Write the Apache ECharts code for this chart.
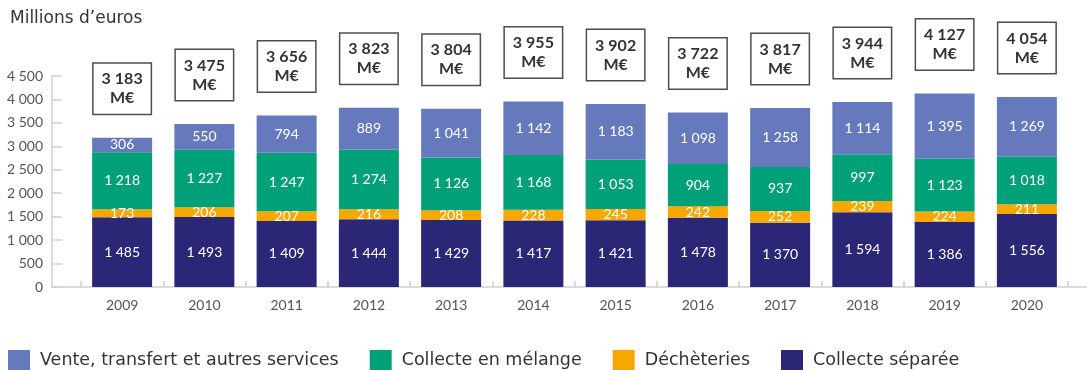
<!DOCTYPE html>
<html>
<head>
<meta charset="utf-8">
<script src="https://cdn.jsdelivr.net/npm/echarts@6/dist/echarts.min.js"></script>
<style>
  html, body { margin: 0; padding: 0; background: #fff; }
  #chart { width: 1087px; height: 370px; }
</style>
</head>
<body>
<div id="chart"></div>
<script>
// Dépenses de gestion des déchets, en millions d'euros
const years = ['2009', '2010', '2011', '2012', '2013', '2014', '2015', '2016', '2017', '2018', '2019', '2020'];
const collecteSeparee = [1485, 1493, 1409, 1444, 1429, 1417, 1421, 1478, 1370, 1594, 1386, 1556];
const decheteries = [173, 206, 207, 216, 208, 228, 245, 242, 252, 239, 224, 211];
const collecteMelange = [1218, 1227, 1247, 1274, 1126, 1168, 1053, 904, 937, 997, 1123, 1018];
const venteTransfert = [306, 550, 794, 889, 1041, 1142, 1183, 1098, 1258, 1114, 1395, 1269];
const totals = [3183, 3475, 3656, 3823, 3804, 3955, 3902, 3722, 3817, 3944, 4127, 4054];
const yTicks = { min: 0, max: 4500, interval: 500 };

const FONT = 'Lato, "Noto Sans", sans-serif';
const TEXT_FONT = '"DejaVu Sans", "Noto Sans", sans-serif';
const fmt = v => String(v).replace(/\B(?=(\d{3})+(?!\d))/g, '\u202f');

const innerLabel = {
  show: true,
  position: 'inside',
  color: '#fff',
  fontSize: 14,
  fontFamily: FONT,
  formatter: p => fmt(p.value)
};

function barSeries(name, data, color) {
  return {
    name: name,
    type: 'bar',
    stack: 'total',
    xAxisIndex: 0,
    yAxisIndex: 0,
    barWidth: 60,
    data: data,
    itemStyle: { color: color },
    label: innerLabel
  };
}

const chart = echarts.init(document.getElementById('chart'), null, { renderer: 'canvas' });
chart.setOption({
  animation: false,
  title: {
    text: 'Millions d\u2019euros',
    left: 5,
    top: 5,
    textStyle: { fontFamily: TEXT_FONT, fontSize: 17, fontWeight: 'normal', color: '#333' }
  },
  legend: {
    left: 3,
    top: 345,
    itemWidth: 22,
    itemHeight: 21,
    itemGap: 31,
    icon: 'rect',
    textStyle: { fontFamily: TEXT_FONT, fontSize: 17.5, color: '#333', padding: [0, 0, 0, 5] },
    data: ['Vente, transfert et autres services', 'Collecte en mélange', 'Déchèteries', 'Collecte séparée']
  },
  grid: [
    { left: 81, right: 19, top: 76, bottom: 83 },
    { left: 52, right: 0, top: 76, bottom: 83 }
  ],
  xAxis: [
    {
      type: 'category',
      gridIndex: 0,
      data: years,
      axisLine: { show: false },
      axisTick: { show: true, inside: true, length: 6, lineStyle: { color: '#d0d0d0', width: 1.5 } },
      axisLabel: { color: '#555', fontSize: 14, fontFamily: FONT, margin: 11 }
    },
    {
      type: 'value',
      gridIndex: 1,
      min: 0,
      max: 1,
      position: 'bottom',
      axisLine: { show: true, onZero: false, lineStyle: { color: '#d0d0d0', width: 1.5 } },
      axisTick: { show: false },
      axisLabel: { show: false },
      splitLine: { show: false }
    }
  ],
  yAxis: [
    {
      type: 'value',
      gridIndex: 0,
      min: yTicks.min,
      max: yTicks.max,
      interval: yTicks.interval,
      show: false
    },
    {
      type: 'value',
      gridIndex: 1,
      min: yTicks.min,
      max: yTicks.max,
      interval: yTicks.interval,
      axisLine: { show: true, lineStyle: { color: '#d0d0d0', width: 1.5 } },
      axisTick: { show: true, inside: true, length: 10, lineStyle: { color: '#d0d0d0', width: 1.5 } },
      axisLabel: { color: '#555', fontSize: 14, fontFamily: FONT, margin: 9, formatter: v => fmt(v) },
      splitLine: { show: false }
    }
  ],
  series: [
    barSeries('Collecte séparée', collecteSeparee, '#2b2676'),
    barSeries('Déchèteries', decheteries, '#f6a800'),
    barSeries('Collecte en mélange', collecteMelange, '#00a078'),
    barSeries('Vente, transfert et autres services', venteTransfert, '#6679bd'),
    {
      // encadrés des totaux au-dessus de chaque barre
      name: 'total',
      type: 'bar',
      stack: 'total',
      barWidth: 60,
      data: years.map(() => 0),
      itemStyle: { color: 'transparent' },
      label: {
        show: true,
        position: 'top',
        distance: 24,
        width: 57,
        padding: [6, 0, 6, 0],
        backgroundColor: '#fff',
        borderColor: '#4d4d4d',
        borderWidth: 1.5,
        align: 'center',
        formatter: p => '{t|' + fmt(totals[p.dataIndex]) + '}\n{t|M\u20ac}',
        rich: {
          t: { fontFamily: FONT, fontSize: 16, fontWeight: 'bold', color: '#333', lineHeight: 19, align: 'center', width: 57 }
        }
      }
    }
  ]
});
</script>
</body>
</html>
